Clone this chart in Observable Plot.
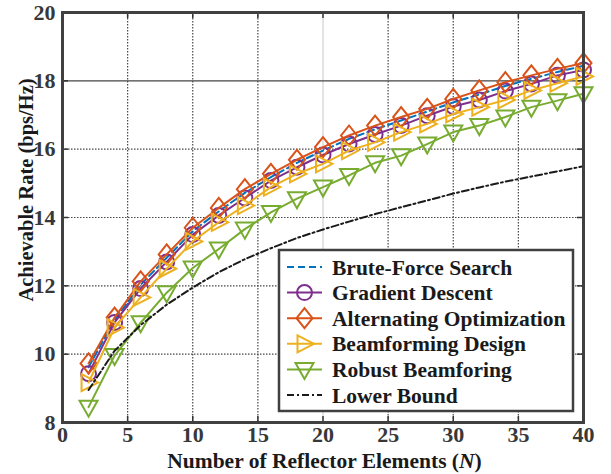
<!DOCTYPE html>
<html><head><meta charset="utf-8">
<script src="https://cdn.jsdelivr.net/npm/d3@7"></script>
<script src="https://cdn.jsdelivr.net/npm/@observablehq/plot@0.6"></script>
<style>body{margin:0;background:#fff}</style>
</head><body><div id="chart"></div>
<script>
const N = [2,4,6,8,10,12,14,16,18,20,22,24,26,28,30,32,34,36,38,40];
const bruteForce = [9.62,11.0,12.03,12.82,13.6,14.18,14.72,15.18,15.6,15.96,16.3,16.58,16.84,17.1,17.37,17.6,17.85,18.06,18.26,18.44];
const gradientDescent = [9.43,10.93,11.92,12.7,13.5,14.06,14.57,15.08,15.47,15.83,16.15,16.43,16.69,16.98,17.25,17.44,17.7,17.91,18.16,18.32];
const alternatingOpt = [9.73,11.07,12.13,12.92,13.7,14.28,14.83,15.28,15.69,16.06,16.4,16.69,16.94,17.18,17.47,17.72,17.96,18.16,18.35,18.52];
const beamformingDesign = [9.17,10.78,11.66,12.5,13.3,13.86,14.35,14.89,15.28,15.57,15.96,16.2,16.5,16.74,17.03,17.23,17.44,17.72,17.93,18.13];
const robustBeamforming = [8.45,9.96,10.92,11.8,12.52,13.08,13.66,14.15,14.55,14.89,15.23,15.6,15.81,16.15,16.5,16.69,16.94,17.23,17.42,17.62];
const lowerBound = [8.95,10.1,10.85,11.45,11.95,12.4,12.78,13.1,13.4,13.65,13.88,14.1,14.3,14.5,14.7,14.88,15.05,15.2,15.35,15.5];

const seriesNames = ["Brute-Force Search","Gradient Descent","Alternating Optimization","Beamforming Design","Robust Beamforing","Lower Bound"];
const seriesValues = [bruteForce, gradientDescent, alternatingOpt, beamformingDesign, robustBeamforming, lowerBound];
const colors = ["#0072BD","#7E2F8E","#D95319","#EDB120","#77AC30","#1a1a1a"];
const dashes = ["7,4", null, null, null, null, "7,3,2,3"];
const markers = [null, "circle", "diamond", "triRight", "triDown", null];

const xTicks = [0,5,10,15,20,25,30,35,40];
const yTicks = [8,10,12,14,16,18,20];
const xLabel = "Number of Reflector Elements (";
const xLabelItalic = "N";
const yLabel = "Achievable Rate (bps/Hz)";

const symbols = {
  circle: {draw(c){ c.moveTo(7.5,0); c.arc(0,0,7.5,0,2*Math.PI); }},
  diamond: {draw(c){ c.moveTo(0,-10); c.lineTo(8,0); c.lineTo(0,10); c.lineTo(-8,0); c.closePath(); }},
  triRight: {draw(c){ c.moveTo(9.5,0); c.lineTo(-7,-8.5); c.lineTo(-7,8.5); c.closePath(); }},
  triDown: {draw(c){ c.moveTo(0,9.5); c.lineTo(-9,-6.5); c.lineTo(9,-6.5); c.closePath(); }}
};

const W = 611, H = 474;
const mL = 62, mR = 28, mT = 12, mB = 52;
const plotH = H - mT - mB, plotW = W - mL - mR;
const font = "'Liberation Serif', 'Times New Roman', serif";

const seriesData = seriesValues.map((vals, i) => N.map((n, j) => ({n, v: vals[j], s: seriesNames[i]})));

const marks = [
  Plot.gridX(xTicks.filter(d => d > 0 && d < 40 && d !== 20), {stroke: "#333", strokeOpacity: 0.9, strokeWidth: 1.2, strokeDasharray: "1.5,1.5"}),
  Plot.gridX([20], {stroke: "#c8c8c8", strokeOpacity: 1, strokeWidth: 1}),
  Plot.gridY(yTicks.filter(d => d > 8 && d < 20 && d !== 18), {stroke: "#333", strokeOpacity: 0.9, strokeWidth: 1.2, strokeDasharray: "1.5,1.5"}),
  Plot.gridY([18], {stroke: "#444", strokeOpacity: 1, strokeWidth: 1.2}),
  Plot.tickX(xTicks, {x: d => d, stroke: "#333", strokeWidth: 1.5, insetTop: plotH - 6}),
  Plot.tickX(xTicks, {x: d => d, stroke: "#333", strokeWidth: 1.5, insetBottom: plotH - 6}),
  Plot.tickY(yTicks, {y: d => d, stroke: "#333", strokeWidth: 1.5, insetRight: plotW - 6}),
  Plot.tickY(yTicks, {y: d => d, stroke: "#333", strokeWidth: 1.5, insetLeft: plotW - 6})
];
seriesData.forEach((data, i) => {
  marks.push(Plot.line(data, {x: "n", y: "v", stroke: colors[i], strokeWidth: 2, strokeDasharray: dashes[i] || undefined}));
  if (markers[i]) marks.push(Plot.dot(data, {x: "n", y: "v", symbol: symbols[markers[i]], r: 7, stroke: colors[i], fill: "none", strokeWidth: 2}));
});
marks.push(
  Plot.frame({stroke: "#404040", strokeWidth: 3}),
  Plot.axisX({ticks: xTicks, tickSize: 0, tickPadding: 4, tickFormat: d => d, label: null, fill: "#383838"}),
  Plot.axisY({ticks: yTicks, tickSize: 0, tickPadding: 7, tickFormat: d => d, label: null, fill: "#383838"})
);

const chart = Plot.plot({
  width: W, height: H,
  marginLeft: mL, marginRight: mR, marginTop: mT, marginBottom: mB,
  x: {domain: [0, 40]},
  y: {domain: [8, 20]},
  style: {fontFamily: font, fontWeight: "bold", fontSize: "22px", color: "#262626", background: "#fff"},
  marks
});
document.getElementById("chart").appendChild(chart);

const svg = d3.select(chart);
// axis labels
const xl = svg.append("text").attr("x", mL + plotW / 2 + 2).attr("y", H - 6)
  .attr("text-anchor", "middle").attr("font-family", font).attr("font-weight", "bold")
  .attr("font-size", 21.5).attr("fill", "#1a1a1a");
xl.append("tspan").text(xLabel);
xl.append("tspan").attr("font-style", "italic").text(xLabelItalic);
xl.append("tspan").text(")");
svg.append("text").attr("transform", `translate(33,190) rotate(-90)`)
  .attr("text-anchor", "middle").attr("font-family", font).attr("font-weight", "bold")
  .attr("font-size", 20.5).attr("fill", "#1a1a1a").text(yLabel);

// legend
const lg = svg.append("g");
const lx = 279, ly = 250, lw = 294, lh = 161, rowH = 25.6, row0 = 267;
lg.append("rect").attr("x", lx).attr("y", ly).attr("width", lw).attr("height", lh)
  .attr("fill", "#fff").attr("stroke", "#404040").attr("stroke-width", 2.5);
seriesNames.forEach((name, i) => {
  const cy = row0 + i * rowH;
  lg.append("line").attr("x1", 287).attr("x2", 322).attr("y1", cy).attr("y2", cy)
    .attr("stroke", colors[i]).attr("stroke-width", 2).attr("stroke-dasharray", dashes[i] || null);
  if (markers[i]) {
    const p = d3.path(); symbols[markers[i]].draw(p);
    lg.append("path").attr("d", p.toString()).attr("transform", `translate(304.5,${cy})`)
      .attr("fill", "none").attr("stroke", colors[i]).attr("stroke-width", 2);
  }
  lg.append("text").attr("x", 332).attr("y", cy).attr("dy", "0.35em").attr("text-anchor", "start")
    .attr("font-family", font).attr("font-weight", "bold").attr("font-size", 21.5)
    .attr("fill", "#1a1a1a").text(name);
});
</script></body></html>
